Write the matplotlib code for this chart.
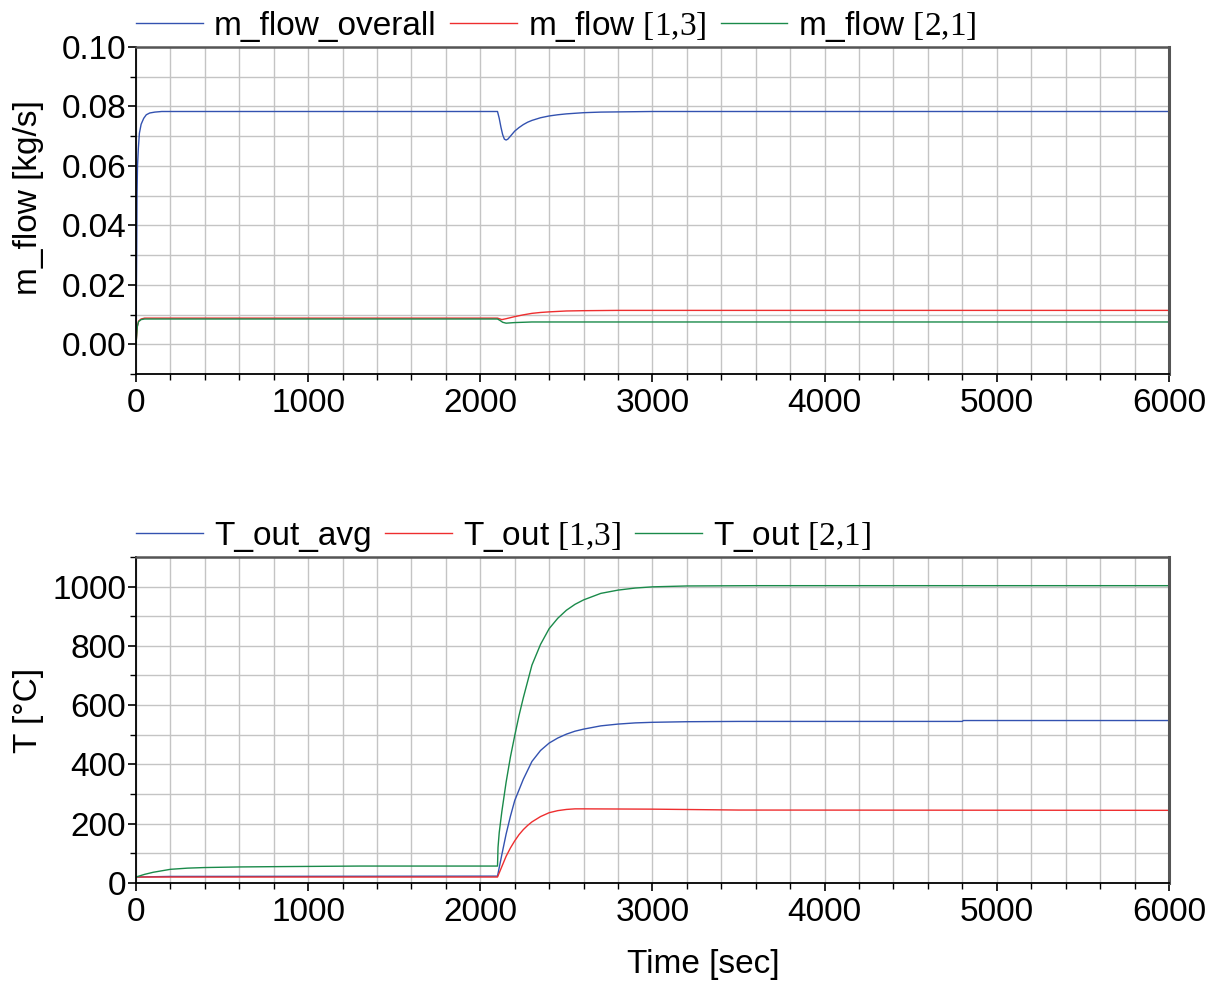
import numpy as np
import matplotlib
matplotlib.use("Agg")
import matplotlib.pyplot as plt
from matplotlib.ticker import MultipleLocator, FormatStrFormatter

plt.rcParams['font.family'] = ['Liberation Sans', 'DejaVu Sans']
plt.rcParams['mathtext.fontset'] = 'custom'
plt.rcParams['mathtext.rm'] = 'Liberation Serif'

# ---- top plot: mass flows ----
t_mo = [0, 4, 6, 9, 14, 20, 30, 45, 60, 80, 110, 150,
        2100, 2110, 2120, 2130, 2140, 2150, 2160, 2175, 2200, 2225, 2250, 2275,
        2300, 2350, 2400, 2450, 2500, 2600, 2700, 2850, 3000, 6000]
m_overall = [0.0, 0.030, 0.050, 0.060, 0.066, 0.071, 0.074, 0.076, 0.0772, 0.0778, 0.0781, 0.0783,
             0.0783, 0.0760, 0.0730, 0.0705, 0.0690, 0.0687, 0.0690, 0.0700, 0.0717, 0.0729, 0.0739, 0.0747,
             0.0753, 0.0762, 0.0768, 0.0772, 0.0775, 0.0779, 0.0781, 0.0782, 0.0783, 0.0783]

t_m13 = [0, 4, 8, 15, 30, 50, 100, 2100, 2125, 2150, 2200, 2250, 2300, 2350,
         2400, 2500, 2600, 2800, 6000]
m_13 = [0.0, 0.003, 0.006, 0.0078, 0.0085, 0.0088, 0.0088, 0.0088, 0.0083, 0.0086,
        0.0093, 0.0099, 0.0104, 0.0107, 0.0109, 0.0112, 0.0113, 0.0114, 0.0114]

t_m21 = [0, 4, 8, 15, 30, 50, 100, 2100, 2115, 2130, 2150, 2175, 2200, 2300, 6000]
m_21 = [0.0, 0.003, 0.006, 0.0076, 0.0083, 0.0085, 0.0085, 0.0085, 0.0080, 0.0074,
        0.0071, 0.0072, 0.0073, 0.0075, 0.0075]

# ---- bottom plot: outlet temperatures ----
t_Tavg = [0, 200, 2100, 2125, 2150, 2175, 2200, 2250, 2300, 2350, 2400, 2450,
          2500, 2550, 2600, 2700, 2800, 2900, 3000, 3200, 3500, 4800, 4805, 6000]
T_avg = [20, 22, 23, 95, 165, 225, 278, 350, 410, 447, 472, 489,
         502, 512, 519, 530, 536, 540, 542, 544, 545, 545, 548, 548]

t_T13 = [0, 2100, 2125, 2150, 2175, 2200, 2225, 2250, 2275, 2300, 2350, 2400,
         2450, 2500, 2550, 2600, 3000, 3500, 6000]
T_13 = [20, 20, 55, 90, 118, 142, 163, 180, 194, 206, 224, 237,
        244, 248, 250, 250, 249, 246, 245]

t_T21 = [0, 50, 100, 200, 300, 400, 600, 800, 1300, 2100, 2103, 2110, 2125, 2150,
         2175, 2200, 2225, 2250, 2275, 2300, 2350, 2400, 2450, 2500, 2550, 2600,
         2700, 2800, 2900, 3000, 3200, 3600, 6000]
T_21 = [20, 29, 36, 46, 50, 52, 54, 55, 57, 57, 120, 170, 240, 340,
        425, 497, 565, 625, 680, 735, 805, 858, 893, 920, 940, 955,
        977, 988, 995, 999, 1002, 1003, 1003]

c_blue = '#3352b0'
c_red = '#ee2e2f'
c_green = '#1a8a4a'

fig = plt.figure(figsize=(12.15, 9.85), dpi=100)
ax1 = fig.add_axes([0.1119, 0.6203, 0.8502, 0.3320])
ax2 = fig.add_axes([0.1119, 0.1036, 0.8502, 0.3310])

ax1.plot(t_mo, m_overall, color=c_blue, lw=1.0, label='m_flow_overall')
ax1.plot(t_m13, m_13, color=c_red, lw=1.0, label=r'm_flow $\mathrm{[1{,}3]}$')
ax1.plot(t_m21, m_21, color=c_green, lw=1.0, label=r'm_flow $\mathrm{[2{,}1]}$')
ax1.set_ylim(-0.01, 0.10)
ax1.yaxis.set_major_locator(MultipleLocator(0.02))
ax1.yaxis.set_minor_locator(MultipleLocator(0.01))
ax1.yaxis.set_major_formatter(FormatStrFormatter('%.2f'))
ax1.set_ylabel('m_flow [kg/s]', fontsize=24)

ax2.plot(t_Tavg, T_avg, color=c_blue, lw=1.0, label='T_out_avg')
ax2.plot(t_T13, T_13, color=c_red, lw=1.0, label=r'T_out $\mathrm{[1{,}3]}$')
ax2.plot(t_T21, T_21, color=c_green, lw=1.0, label=r'T_out $\mathrm{[2{,}1]}$')
ax2.set_ylim(0, 1100)
ax2.yaxis.set_major_locator(MultipleLocator(200))
ax2.yaxis.set_minor_locator(MultipleLocator(100))
ax2.set_ylabel('T [°C]', fontsize=24)

for ax in (ax1, ax2):
    ax.set_xlim(0, 6000)
    ax.xaxis.set_major_locator(MultipleLocator(1000))
    ax.xaxis.set_minor_locator(MultipleLocator(200))
    ax.grid(which='both', color='#c4c4c4', lw=1.0)
    ax.set_axisbelow(True)
    ax.tick_params(which='major', labelsize=24, length=6, width=1.2, direction='out',
                   top=False, right=False, pad=4)
    ax.tick_params(axis='y', which='major', pad=1)
    ax.tick_params(which='minor', length=4, width=1.0, direction='out',
                   top=False, right=False)
    ax.spines['left'].set_color('black')
    ax.spines['bottom'].set_color('black')
    ax.spines['left'].set_linewidth(1.3)
    ax.spines['bottom'].set_linewidth(1.3)
    ax.spines['top'].set_color('#555555')
    ax.spines['right'].set_color('#555555')
    ax.spines['top'].set_linewidth(1.8)
    ax.spines['right'].set_linewidth(2.2)
    ax.legend(loc='lower left', bbox_to_anchor=(-0.003, 1.0), ncol=3, frameon=False,
              fontsize=24, handlelength=2.0, handletextpad=0.33, columnspacing=0.42,
              borderaxespad=0.0, borderpad=0.1)

ax1.yaxis.set_label_coords(-0.089, 0.54)
ax2.yaxis.set_label_coords(-0.089, 0.53)

fig.text(703 / 1215, 1 - 965 / 985, 'Time [sec]', fontsize=24, ha='center', va='center')

fig.savefig('out.png', dpi=100)
